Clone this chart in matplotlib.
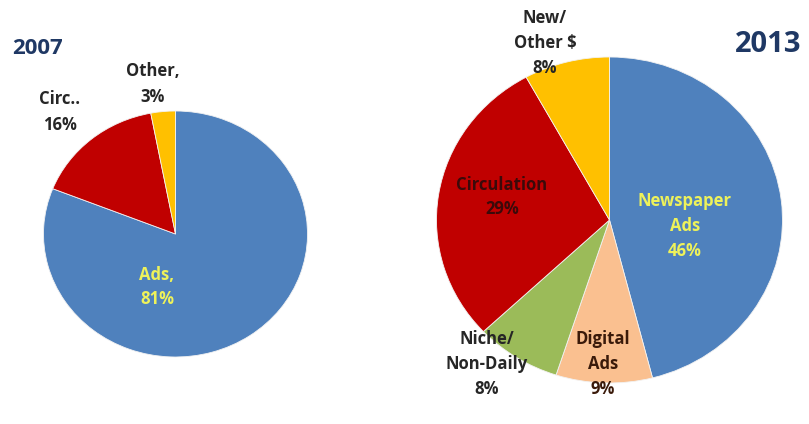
import matplotlib.pyplot as plt

# 2007 revenue mix
labels_2007 = ["Ads,\n81%", "Circ..\n16%", "Other,\n3%"]
share_2007 = [81, 16, 3]
colors_2007 = ["#4F81BD", "#C00000", "#FFC000"]

# 2013 revenue mix
labels_2013 = ["Newspaper\nAds\n46%", "Digital\nAds\n9%", "Niche/\nNon-Daily\n8%",
               "Circulation\n29%", "New/\nOther $\n8%"]
share_2013 = [46, 9, 8, 29, 8]
colors_2013 = ["#4F81BD", "#FAC090", "#9BBB59", "#C00000", "#FFC000"]

W, H = 809, 424
fig = plt.figure(figsize=(W / 100, H / 100), dpi=100)


def pie_axes(cx, cy, rx, ry):
    # axes box in pixel units (y measured from the top), pie fills it
    a = fig.add_axes([(cx - rx) / W, (H - cy - ry) / H, 2 * rx / W, 2 * ry / H])
    return a


ax1 = pie_axes(175.5, 234, 132, 123)
ax1.pie(share_2007, colors=colors_2007, startangle=90, counterclock=False,
        radius=1, wedgeprops=dict(linewidth=0.6, edgecolor="#f2f2f2"))
ax2 = pie_axes(609.5, 220, 173, 163)
ax2.pie(share_2013, colors=colors_2013, startangle=90, counterclock=False,
        radius=1, wedgeprops=dict(linewidth=0.6, edgecolor="#f2f2f2"))
for a in (ax1, ax2):
    a.set_aspect("auto")
    a.set_xlim(-1, 1)
    a.set_ylim(-1, 1)
    a.axis("off")

# overlay for the text, in pixel units
ax = fig.add_axes([0, 0, 1, 1], facecolor="none")
ax.set_xlim(0, W)
ax.set_ylim(H, 0)
ax.axis("off")

font = "Open Sans"
lab = dict(ha="center", va="center", fontsize=12, fontweight="bold",
           family=font, linespacing=1.5)

ax.text(38, 48, "2007", ha="center", va="center", fontsize=16,
        fontweight="bold", family=font, color="#1F3864")
ax.text(768, 45, "2013", ha="center", va="center", fontsize=21,
        fontweight="bold", family=font, color="#1F3864")

# 2007 labels
ax.text(60, 112, labels_2007[1], color="#262626", **lab)
ax.text(153, 84, labels_2007[2], color="#262626", **lab)
ax.text(157, 287, labels_2007[0], color="#EEF25A", **lab)

# 2013 labels
ax.text(685, 226, labels_2013[0], color="#EEF25A", **lab)
ax.text(603, 364, labels_2013[1], color="#3a1a0a", **lab)
ax.text(487, 364, labels_2013[2], color="#262626", **lab)
ax.text(502, 197, labels_2013[3], color="#3b0a0a", **lab)
ax.text(545, 43, labels_2013[4], color="#262626", **lab)

fig.savefig("out.png", dpi=100)
